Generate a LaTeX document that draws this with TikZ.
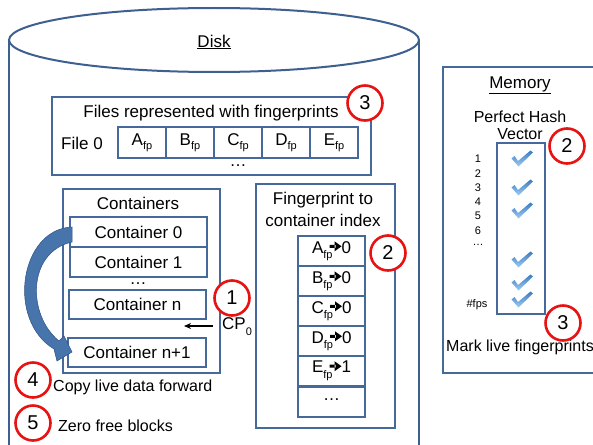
\documentclass[tikz,border=0pt]{standalone}
\usepackage{fontspec}
\setmainfont{Liberation Sans}
\usetikzlibrary{arrows.meta,calc}

\definecolor{boxblue}{RGB}{70,105,155}
\definecolor{diskblue}{RGB}{62,96,145}
\definecolor{numred}{RGB}{232,18,18}
\definecolor{swooshblue}{RGB}{72,116,172}
\definecolor{swooshedge}{RGB}{45,84,134}
\definecolor{ticklight}{RGB}{160,205,242}
\definecolor{tickdark}{RGB}{58,122,196}

% font sizes
\newcommand\bigf{\fontsize{17}{20}\selectfont}
\newcommand\midf{\fontsize{16}{19}\selectfont}
\newcommand\smallf{\fontsize{11}{13}\selectfont}
% lowered "fp" subscript
\newcommand\fpsub{\raisebox{-4pt}{\fontsize{11}{11}\selectfont fp}}
\newcommand\fpsublow{\raisebox{-5.5pt}{\fontsize{11}{11}\selectfont fp}}
% heavy arrow used in the index entries
\newcommand\maparrow{\hspace{-3pt}\tikz[baseline=-0.75ex]\fill (0pt,-1.5pt) rectangle (6pt,1.5pt) (5pt,-5pt) -- (12pt,0pt) -- (5pt,5pt) -- cycle;}

\begin{document}
\begin{tikzpicture}[x=1pt,y=-1pt,
  box/.style={draw=boxblue,line width=1.3pt,inner sep=0pt,fill=white},
  diskline/.style={draw=diskblue,line width=2pt},
  lbl/.style={font=\bigf,inner sep=0pt},
  num/.style={circle,draw=numred,fill=white,line width=2.6pt,minimum size=35pt,inner sep=0pt,font=\fontsize{20}{20}\selectfont},
  vcheck/.pic={\shade[top color=tickdark,bottom color=ticklight]
      (-10.5,-0.5) -- (-7.5,-3) -- (-4,2) -- (8.5,-8.5) -- (11,-6.5) -- (-3.5,7.5) -- cycle;}
]
\useasboundingbox (0,0) rectangle (593,444);
\clip (0,0) rectangle (593,444);

% disk cylinder
\draw[diskline] (9,40) -- (9,460);
\draw[diskline] (419,40) -- (419,460);
\draw[diskline,fill=white] (214,40) ellipse [x radius=205, y radius=32];
\node[lbl] (disk) at (214,42) {\underline{Disk}};

% files represented with fingerprints
\node[box,minimum width=319,minimum height=78] (files) at (211.5,136) {};
\node[lbl] (filestitle) at (211,113) {Files represented with fingerprints};
\node[lbl] (file0) at (82,143) {File 0};
\foreach \l [count=\i from 0] in {A,B,C,D,E}{
  \node[box,minimum width=48,minimum height=31,font=\bigf] (f\l) at (142+48*\i,142.5) {\l\fpsub};
}
\node[lbl] (fdots) at (238,166) {\dots};

% containers
\node[box,minimum width=157,minimum height=184] (cont) at (141.5,281) {};
\node[lbl] (conttitle) at (138,203) {Containers};
\node[box,minimum width=137,minimum height=30,font=\bigf] (c0) at (138.5,232) {Container 0};
\node[box,minimum width=137,minimum height=30,font=\bigf] (c1) at (138.5,262) {Container 1};
\node[lbl] (cdots) at (138,284) {\dots};
\node[box,minimum width=137,minimum height=29,font=\bigf] (cn) at (137.5,304.5) {Container n};
\node[box,minimum width=138,minimum height=29,font=\bigf] (cn1) at (137,352.5) {Container n+1};

% copy-forward swoosh from container 0 to container n+1
\filldraw[fill=swooshblue,draw=swooshedge,line width=0.5pt]
  (72,227) .. controls (20,229) and (6,320) .. (54,349) -- (57,361) -- (72,352)
  -- (64,336) -- (59,341) .. controls (27,315) and (27,252) .. (72,242) -- cycle;

% CP_0 pointer
\node[lbl,anchor=west] (cp) at (222,327) {CP\raisebox{-6pt}{\smallf 0}};
\coordinate (cpstart) at (213,326);
\coordinate (cpend) at (184,326);
\draw[line width=1.2pt,-{Stealth[length=7pt,width=6pt]}] (cpstart) -- (cpend);

% fingerprint to container index
\node[box,minimum width=139,minimum height=244] (index) at (325.5,306) {};
\node[lbl] (idxt1) at (323,200) {Fingerprint to};
\node[lbl] (idxt2) at (323,220) {container index};
\foreach \l/\c [count=\i from 0] in {A/0,B/0,C/0,D/0,E/1}{
  \node[box,minimum width=67,minimum height=30,font=\bigf] (i\l) at (331.5,251+30*\i) {\l\fpsublow\maparrow\c};
}
\node[box,minimum width=67,minimum height=30,font=\bigf] (idots) at (331.5,402) {\raisebox{4pt}{\dots}};

% memory
\node[box,minimum width=167,minimum height=306] (mem) at (526.5,220) {};
\node[lbl] (memt) at (520,85) {\underline{Memory}};
\node[font=\midf,inner sep=0pt] (phv1) at (520,117) {Perfect Hash};
\node[font=\midf,inner sep=0pt] (phv2) at (520,134) {Vector};
\node[box,minimum width=48,minimum height=171] (vec) at (521,228.5) {};
\foreach \t/\y in {1/159,2/174,3/188,4/202,5/216,6/231}{
  \node[font=\smallf,inner sep=0pt] (row\t) at (478,\y) {\t};
}
\node[font=\smallf,inner sep=0pt] (rowdots) at (478,245) {\dots};
\node[font=\smallf,inner sep=0pt] (rowfps) at (477,305) {\#fps};
\foreach \y in {159,188,211,260,283,300}{
  \pic at (522,\y) {vcheck};
}
\node[font=\midf,inner sep=0pt,anchor=west] (mark) at (446,347) {Mark live fingerprints};

% step markers
\node[num] (s3files) at (365,103) {3};
\node[num] (s2index) at (388,253) {2};
\node[num] (s1) at (232,298) {1};
\node[num] (s4) at (33,380) {4};
\node[num] (s5) at (33,423) {5};
\node[num] (s2mem) at (567,146) {2};
\node[num] (s3mem) at (563,323) {3};

\node[font=\midf,inner sep=0pt,anchor=west] (copy) at (53,387) {Copy live data forward};
\node[font=\midf,inner sep=0pt,anchor=west] (zero) at (58,426) {Zero free blocks};
\end{tikzpicture}
\end{document}
